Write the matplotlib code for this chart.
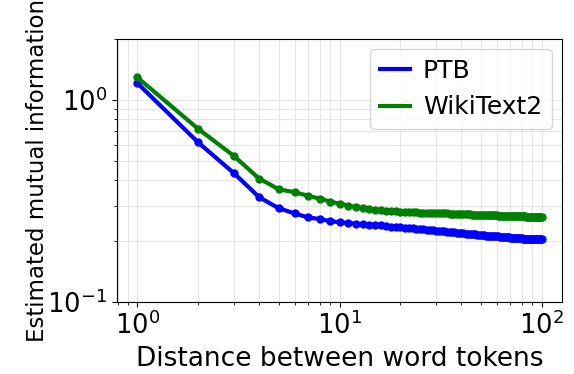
import numpy as np
import matplotlib
matplotlib.use("Agg")
import matplotlib.pyplot as plt
from matplotlib.lines import Line2D

distance = list(range(1, 101))

ptb = [1.21, 0.615, 0.434, 0.330, 0.291, 0.274, 0.262, 0.257, 0.251, 0.248,
       0.246, 0.244, 0.242, 0.241, 0.240, 0.239, 0.238, 0.236, 0.235, 0.234,
       0.233, 0.232, 0.231, 0.230, 0.229, 0.229, 0.228, 0.227, 0.226, 0.225,
       0.225, 0.224, 0.224, 0.223, 0.222, 0.222, 0.221, 0.220, 0.220, 0.219,
       0.219, 0.218, 0.218, 0.217, 0.217, 0.216, 0.216, 0.215, 0.215, 0.214,
       0.214, 0.214, 0.213, 0.213, 0.213, 0.212, 0.212, 0.212, 0.211, 0.211,
       0.211, 0.210, 0.210, 0.210, 0.210, 0.209, 0.209, 0.209, 0.209, 0.208,
       0.208, 0.208, 0.208, 0.208, 0.207, 0.207, 0.207, 0.207, 0.207, 0.207,
       0.206, 0.206, 0.206, 0.206, 0.206, 0.206, 0.206, 0.205, 0.205, 0.205,
       0.205, 0.205, 0.205, 0.205, 0.205, 0.205, 0.205, 0.205, 0.205, 0.205]

wikitext2 = [1.29, 0.718, 0.528, 0.408, 0.361, 0.349, 0.335, 0.324, 0.314, 0.306,
             0.300, 0.295, 0.291, 0.288, 0.285, 0.284, 0.283, 0.282, 0.281, 0.280,
             0.279, 0.279, 0.278, 0.278, 0.277, 0.277, 0.276, 0.276, 0.275, 0.275,
             0.275, 0.274, 0.274, 0.274, 0.273, 0.273, 0.273, 0.272, 0.272, 0.272,
             0.272, 0.271, 0.271, 0.271, 0.270, 0.270, 0.270, 0.270, 0.269, 0.269,
             0.269, 0.269, 0.269, 0.268, 0.268, 0.268, 0.268, 0.268, 0.268, 0.268,
             0.267, 0.267, 0.267, 0.267, 0.267, 0.267, 0.266, 0.266, 0.266, 0.266,
             0.266, 0.266, 0.266, 0.266, 0.265, 0.265, 0.265, 0.265, 0.265, 0.265,
             0.265, 0.265, 0.265, 0.264, 0.264, 0.264, 0.264, 0.264, 0.264, 0.264,
             0.264, 0.264, 0.264, 0.264, 0.264, 0.264, 0.264, 0.264, 0.264, 0.264]

fig = plt.figure(figsize=(5.74, 3.74), dpi=100)
ax = fig.add_axes([0.204, 0.1925, 0.775, 0.7035])

ax.plot(distance, ptb, "o-", color="b", lw=3, ms=5)
ax.plot(distance, wikitext2, "o-", color="g", lw=3, ms=5)

ax.set_xscale("log")
ax.set_yscale("log")
ax.set_ylim(0.1, 2.0)
ax.grid(True, which="both", color="#e6e6e6", lw=0.8)
ax.set_axisbelow(True)

ax.tick_params(labelsize=18.5)
ax.set_xlabel("Distance between word tokens", fontsize=19)
ax.set_ylabel("Estimated mutual information", fontsize=16.5, labelpad=-1)

handles = [Line2D([], [], color="b", lw=3), Line2D([], [], color="g", lw=3)]
ax.legend(handles, ["PTB", "WikiText2"], loc="upper right", fontsize=18,
          handlelength=1.2, handletextpad=0.5, borderaxespad=0.4)

fig.savefig("out.png", dpi=100)
